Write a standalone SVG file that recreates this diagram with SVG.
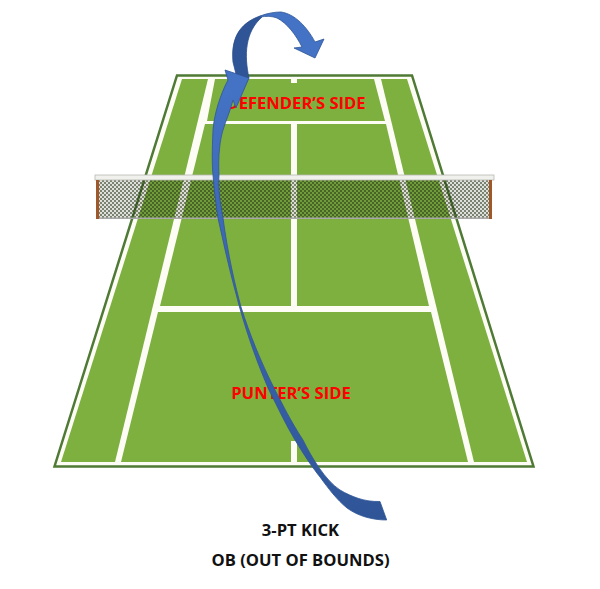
<svg xmlns="http://www.w3.org/2000/svg" width="600" height="589" viewBox="0 0 600 589">
<style>
.lbl{font-family:"Open Sans","Liberation Sans",sans-serif;font-weight:700;font-size:16.6px;text-anchor:middle}
.red{fill:#ff0000}
.blk{fill:#111}
.grass{fill:#7db03f}
</style>
<defs>
<pattern id="mesh" width="4" height="4" patternUnits="userSpaceOnUse">
<path d="M0,0H4V4H0Z M1,0A1,1 0 1 0 1,2A1,1 0 1 0 1,0Z M3,2A1,1 0 1 0 3,4A1,1 0 1 0 3,2Z" fill="#28361a" fill-opacity="0.62" fill-rule="evenodd"/>
</pattern>
<linearGradient id="body" gradientUnits="userSpaceOnUse" x1="225" y1="90" x2="380" y2="520">
<stop offset="0" stop-color="#4472c4"/><stop offset="0.45" stop-color="#3a63ad"/><stop offset="1" stop-color="#2f5597"/>
</linearGradient>
</defs>
<g id="court">
<polygon points="177,75.500 412,75.500 533.500,466.500 54.500,466.500" fill="#fdfdf5" stroke="#4f7a35" stroke-width="2.500"/>
<polygon class="grass" points="182,79 208,79 115,462 61,462"/>
<polygon class="grass" points="215,79 291,79 291,83 297,83 297,79 374,79 385,121 207,121"/>
<polygon class="grass" points="381,79 407,79 527,462 474,462"/>
<polygon class="grass" points="205,124 291,124 291,306 160,306"/>
<polygon class="grass" points="297,124 386,124 429,306 297,306"/>
<polygon class="grass" points="158,312 431,312 468,462 297,462 297,441 291,441 291,462 121,462"/>
</g>
<g id="net">
<rect x="98" y="180" width="392" height="38" fill="url(#mesh)"/>
<rect x="95" y="175" width="399" height="5" fill="#f0f0ec" stroke="#b8b8b4" stroke-width="0.800"/>
<rect x="97" y="217.500" width="393" height="1.500" fill="#a8a8a8"/>
<rect x="96" y="180" width="3" height="39" fill="#a0582a"/>
<rect x="489" y="180" width="3" height="39" fill="#a0582a"/>
</g>
<g id="labels-court">
<text class="lbl red" x="296" y="109">DEFENDER’S SIDE</text>
<text class="lbl red" x="291" y="399">PUNTER’S SIDE</text>
</g>
<g id="connectors">
<path id="kick-fold" d="M260,16 C238,24 231,40 233,62 L236,74 L249,78 C244,55 245,32 262,17 Z" fill="#2f5597" stroke="#2a4d8a" stroke-width="0.800"/>
<path id="kick-over" d="M260,16 C268,13 275,12 281,12 C295,14 307,27 315,42 L324,39 L315,58 L294,48 L302,47 C296,35 287,23 277,18 C272,16 266,16 260,17 Z" fill="#4472c4" stroke="#2f5597" stroke-width="0.800"/>
<path id="kick-main" d="M380,501.500 C365,502 352,497 340,490 C325,480 312,458 303,440 C290,420 283,405 275,390 C260,360 250,335 241,307 C235,285 228,255 223,218 C220,200 218,190 219,175 C218,155 220,140 223,130 C226,120 230,112 233,100 L236,108 L249,78 L225,70 L228,80 C220,95 214,115 213,130 C212,150 212,165 213,175 C214,190 216,205 218,218 C224,245 229,268 235,290 C237,297 238,302 239.500,307 C248,337 258,365 269,390 C278,408 286,425 295,440 C304,455 312,467 320,477 C328,488 337,500 347,508 C358,516 372,520 386.700,520 Z" fill="url(#body)" stroke="#2f5597" stroke-width="0.800"/>
</g>
<g id="labels-note">
<text class="lbl blk" x="300.500" y="536">3-PT KICK</text>
<text class="lbl blk" x="300.500" y="566">OB (OUT OF BOUNDS)</text>
</g>
</svg>
